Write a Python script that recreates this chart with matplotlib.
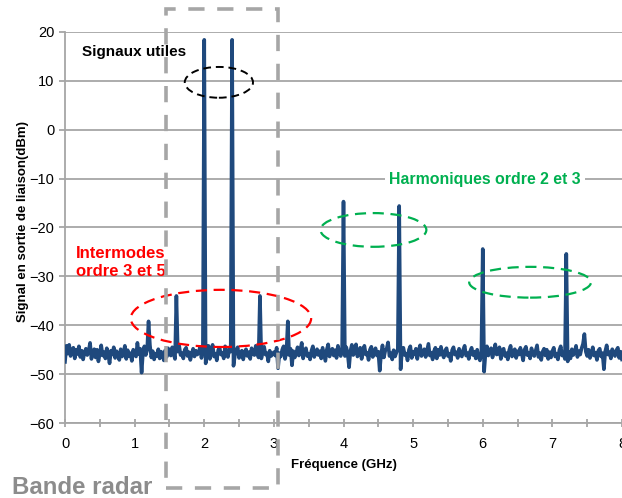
import numpy as np
import matplotlib.pyplot as plt
from matplotlib.patches import Ellipse, Rectangle
from matplotlib.ticker import MultipleLocator

plt.rcParams['font.family'] = ['Liberation Sans', 'DejaVu Sans']

# noise floor, one row per GHz, step 0.02 GHz
noise_rows = [
    [-47.5, -44.2, -45.8, -44.0, -46.3, -45.1, -44.6, -46.8, -45.0, -45.9, -44.3, -46.5, -45.2, -47.0, -45.6, -44.8, -46.1, -45.3, -43.6, -46.9,
     -45.4, -44.9, -46.6, -45.0, -47.4, -45.7, -44.1, -46.2, -45.5, -46.8, -44.7, -45.9, -47.8, -45.2, -46.0, -44.5, -46.7, -45.3, -45.9, -47.1,
     -44.9, -46.4, -45.6, -44.2, -46.9, -45.1, -46.3, -45.7, -47.3, -45.0],
    [-45.8, -46.4, -43.6, -45.9, -44.8, -49.7, -45.5, -44.3, -46.1, -45.0, -45.2, -44.1, -46.6, -45.3, -47.0, -45.8, -46.3, -44.9, -46.8, -45.4,
     -46.0, -47.2, -45.1, -46.5, -44.7, -45.9, -46.2, -44.5, -45.8, -46.9, -45.0, -45.4, -44.2, -46.1, -45.7, -46.8, -45.0, -44.6, -46.3, -45.5,
     -47.1, -45.9, -44.8, -46.4, -45.2, -46.0, -45.6, -44.4, -46.7, -45.3],
    [-45.0, -47.8, -45.5, -44.2, -46.9, -45.3, -44.0, -46.4, -45.8, -47.2, -45.1, -44.6, -46.0, -45.7, -46.8, -44.3, -45.9, -46.5, -44.8, -45.4,
     -45.0, -48.3, -46.2, -45.1, -44.5, -46.7, -45.8, -45.2, -47.0, -45.6, -44.9, -46.3, -45.5, -46.9, -44.7, -45.8, -46.1, -44.2, -45.6, -46.6,
     -45.0, -46.8, -45.4, -44.4, -46.0, -45.7, -47.4, -45.2, -46.3, -45.9],
    [-45.5, -46.2, -44.6, -48.8, -45.7, -46.4, -45.0, -44.3, -46.9, -45.6, -45.0, -46.1, -44.8, -48.2, -45.3, -46.6, -45.9, -44.5, -46.2, -45.1,
     -43.6, -46.8, -45.4, -44.7, -46.3, -45.8, -47.0, -45.2, -44.3, -46.5, -45.7, -44.9, -46.1, -45.3, -46.8, -44.6, -45.9, -47.3, -45.0, -43.9,
     -46.4, -45.6, -44.8, -46.2, -45.1, -46.7, -44.2, -45.5, -46.3, -45.0],
    [-45.0, -46.3, -44.5, -45.8, -48.6, -45.2, -44.0, -46.1, -45.5, -43.9, -46.4, -45.7, -44.6, -46.9, -45.3, -44.2, -46.0, -45.6, -47.1, -45.0,
     -44.4, -46.5, -45.8, -44.7, -46.2, -45.4, -49.3, -45.9, -44.1, -46.6, -45.2, -44.8, -43.5, -46.3, -45.7, -47.0, -45.1, -46.4, -45.6, -44.9,
     -45.0, -49.0, -45.3, -44.6, -46.1, -45.8, -47.2, -45.0, -44.3, -46.7],
    [-45.4, -46.0, -44.8, -46.9, -45.2, -44.1, -46.3, -45.7, -44.9, -46.5, -45.1, -43.8, -46.2, -45.6, -47.0, -45.3, -44.6, -46.8, -45.0, -46.1,
     -44.4, -45.9, -46.6, -45.2, -44.7, -46.3, -45.8, -47.3, -45.1, -44.5, -46.0, -45.5, -46.7, -44.8, -45.9, -46.4, -45.0, -44.2, -46.2, -45.7,
     -46.9, -45.3, -44.6, -46.1, -45.4, -46.8, -45.0, -46.5, -47.2, -45.9],
    [-45.0, -49.5, -45.6, -44.3, -46.2, -45.1, -44.7, -46.6, -45.4, -43.9, -46.0, -45.8, -44.5, -46.9, -45.2, -44.8, -46.3, -45.7, -47.0, -45.1,
     -44.2, -46.4, -45.5, -44.9, -46.7, -45.3, -46.0, -44.6, -45.8, -47.2, -45.0, -44.4, -46.1, -45.6, -46.8, -44.7, -45.9, -46.3, -45.2, -44.1,
     -46.5, -45.7, -47.1, -45.4, -44.8, -46.2, -45.0, -46.9, -45.5, -46.6],
    [-45.3, -44.6, -46.4, -45.8, -47.0, -45.1, -44.3, -46.2, -45.7, -46.9, -45.0, -47.4, -45.5, -46.8, -44.9, -46.1, -45.6, -44.2, -46.5, -45.3,
     -46.0, -44.7, -43.8, -41.8, -45.4, -46.3, -45.0, -46.7, -45.9, -44.5, -46.2, -45.6, -47.1, -45.2, -44.8, -46.4, -45.7, -49.0, -45.3, -44.1,
     -46.0, -45.5, -46.8, -44.9, -45.8, -46.3, -45.1, -44.6, -46.7, -45.4],
]
noise_end = [-47.0]

# spectral lines (GHz, dBm)
peak_freqs = [1.2, 1.6, 2.0, 2.4, 2.8, 3.2, 4.0, 4.8, 6.0, 7.2]
peak_levels = [-39.2, -34.0, 18.4, 18.4, -34.0, -39.2, -14.7, -15.6, -24.4, -25.4]

step = 0.02
level = np.array(sum(noise_rows, []) + noise_end)
freq = np.arange(len(level)) * step
for f, p in zip(peak_freqs, peak_levels):
    level[int(round(f / step))] = p

fig = plt.figure(figsize=(6.22, 4.98), dpi=100)
ax = fig.add_axes([65 / 622, 1 - 423 / 498, 557 / 622, 391 / 498])

grid_c = '#a6a6a6'
ax.plot(freq, level, color='#1f497d', lw=2.6, zorder=3)

ax.set_xlim(0, 8)
ax.set_ylim(-60, 20)
ax.set_yticks(range(-60, 21, 10))
ax.xaxis.set_major_locator(MultipleLocator(1))
ax.xaxis.set_minor_locator(MultipleLocator(0.5))
ax.grid(axis='y', color=grid_c, lw=1.3)
ax.set_axisbelow(True)
for s in ['top', 'right']:
    ax.spines[s].set_visible(False)
for s in ['left', 'bottom']:
    ax.spines[s].set_color(grid_c)
    ax.spines[s].set_linewidth(1.3)
ax.tick_params(axis='x', which='both', direction='inout', length=6, color=grid_c, width=1.3, labelsize=10.5, pad=7)
ax.tick_params(axis='y', direction='out', length=4, color=grid_c, width=1.3, labelsize=10.5)

ax.set_xlabel('Fréquence (GHz)', fontsize=9.5, fontweight='bold', labelpad=6)
fig.text(0.037, 0.555, 'Signal en sortie de liaison(dBm)', rotation=90, fontsize=9.5,
         fontweight='bold', ha='center', va='center')

# annotations
ax.add_patch(Ellipse((2.21, 9.7), 0.98, 6.3, fill=False, ls=(0, (4, 2.5)), lw=1.4, ec='black', zorder=4))
ax.add_patch(Ellipse((2.24, -38.6), 2.59, 11.7, fill=False, ls=(0, (5, 3)), lw=1.6, ec='#ff0000', zorder=4))
ax.add_patch(Ellipse((4.43, -20.5), 1.52, 6.9, fill=False, ls=(0, (5, 3)), lw=1.6, ec='#00b050', zorder=4))
ax.add_patch(Ellipse((6.68, -31.2), 1.75, 6.3, fill=False, ls=(0, (5, 3)), lw=1.6, ec='#00b050', zorder=4))

ax.text(0.25, 16.0, 'Signaux utiles', fontsize=11, fontweight='bold', va='center', zorder=5)
ax.text(0.16, -27.2, 'Intermodes\nordre 3 et 5', fontsize=12, fontweight='bold', color='#ff0000',
        va='center', linespacing=1.3, zorder=5)
ax.text(6.03, -10.2, 'Harmoniques ordre 2 et 3', fontsize=11.4, fontweight='bold', color='#00b050',
        va='center', ha='center', zorder=5,
        bbox=dict(facecolor='white', edgecolor='none', pad=3))

fig.patches.append(Rectangle((166 / 622, 1 - 488 / 498), 112 / 622, 479 / 498, fill=False,
                             ec='#a6a6a6', lw=2.6, ls=(0, (4.5, 3.5)), transform=fig.transFigure, figure=fig))
fig.text(12 / 622, 1 - 487 / 498, 'Bande radar', fontsize=17.3, fontweight='bold', color='#8c8c8c',
         va='center', ha='left')

fig.savefig('out.png', dpi=100)
